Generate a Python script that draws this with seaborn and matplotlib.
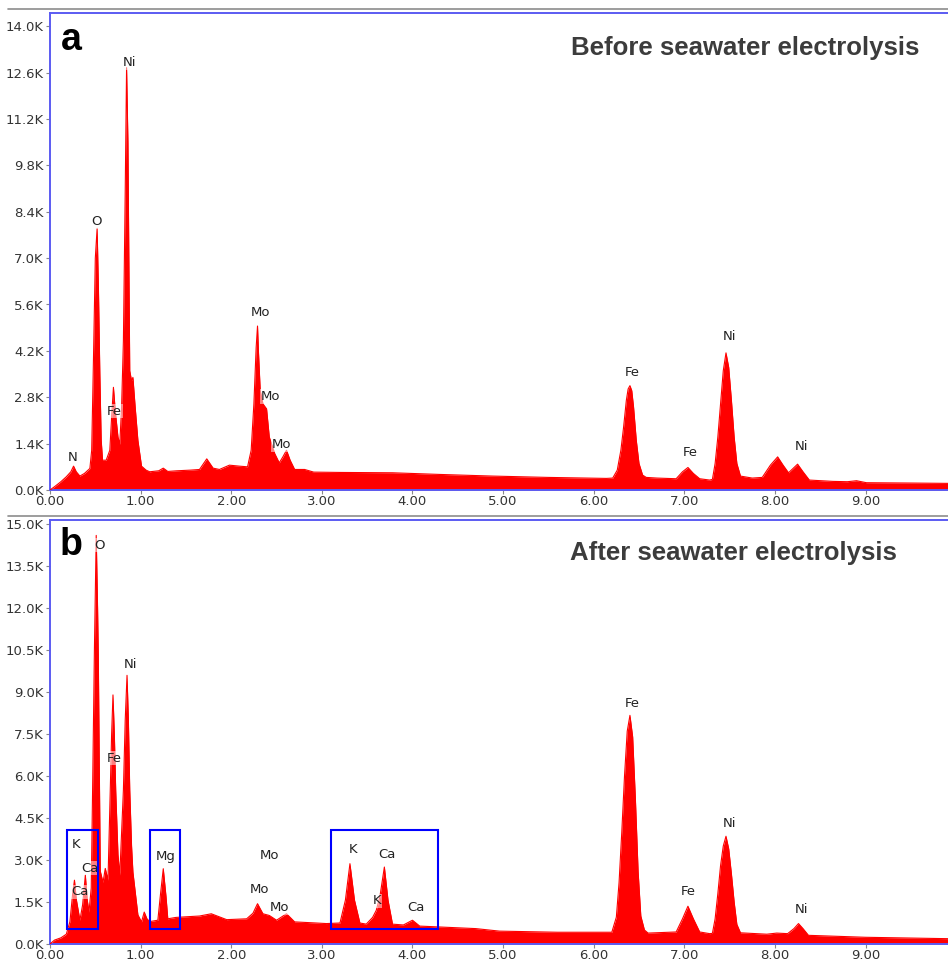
import numpy as np
import pandas as pd
import matplotlib
matplotlib.use("Agg")
import matplotlib.pyplot as plt
from matplotlib.lines import Line2D
from matplotlib.patches import Rectangle
import seaborn as sns

# ---------------- data (energy in keV, counts in thousands) ----------------
energy_a = [0.00, 0.05, 0.12, 0.18, 0.23, 0.26, 0.29, 0.33, 0.38, 0.44, 0.46, 0.48, 0.50, 0.52,
            0.535, 0.55, 0.565, 0.58, 0.62, 0.66, 0.68, 0.70, 0.72, 0.75, 0.77, 0.79, 0.81, 0.83,
            0.845, 0.86, 0.87, 0.88, 0.90, 0.915, 0.94, 0.97, 1.01, 1.06, 1.10, 1.20, 1.25, 1.30,
            1.40, 1.55, 1.65, 1.73, 1.80, 1.87, 1.98, 2.09, 2.18, 2.22, 2.25, 2.275, 2.29, 2.30,
            2.32, 2.35, 2.39, 2.42, 2.48, 2.53, 2.57, 2.61, 2.65, 2.70, 2.81, 2.91, 3.20, 3.78,
            4.30, 4.89, 5.50, 6.14, 6.21, 6.26, 6.30, 6.33, 6.36, 6.38, 6.40, 6.42, 6.44, 6.47,
            6.50, 6.54, 6.58, 6.70, 6.91, 6.98, 7.04, 7.10, 7.17, 7.28, 7.31, 7.34, 7.37, 7.40,
            7.43, 7.46, 7.49, 7.52, 7.55, 7.58, 7.62, 7.75, 7.86, 7.95, 8.03, 8.09, 8.15, 8.25,
            8.31, 8.38, 8.64, 8.80, 8.90, 9.01, 9.50, 9.91]
counts_a = [0.00, 0.10, 0.25, 0.40, 0.55, 0.72, 0.55, 0.42, 0.50, 0.65, 1.20, 4.00, 7.00, 7.90,
            6.00, 3.50, 1.50, 0.90, 0.90, 1.20, 2.20, 3.10, 2.40, 1.60, 1.38, 2.50, 4.50, 9.00,
            12.75, 10.50, 7.00, 3.60, 3.30, 3.40, 2.50, 1.50, 0.72, 0.60, 0.55, 0.58, 0.66, 0.56,
            0.58, 0.60, 0.62, 0.94, 0.66, 0.62, 0.75, 0.72, 0.70, 1.20, 2.60, 4.30, 4.95, 4.20,
            3.00, 2.60, 2.45, 1.60, 1.10, 0.82, 1.00, 1.20, 0.90, 0.62, 0.62, 0.54, 0.53, 0.52,
            0.47, 0.42, 0.38, 0.35, 0.36, 0.60, 1.20, 1.90, 2.70, 3.05, 3.15, 3.00, 2.50, 1.50,
            0.80, 0.45, 0.38, 0.36, 0.34, 0.55, 0.68, 0.50, 0.34, 0.30, 0.32, 0.80, 1.60, 2.60,
            3.60, 4.14, 3.70, 2.70, 1.60, 0.80, 0.42, 0.36, 0.38, 0.75, 1.00, 0.75, 0.52, 0.78,
            0.55, 0.30, 0.26, 0.25, 0.28, 0.22, 0.21, 0.20]

energy_b = [0.00, 0.05, 0.12, 0.18, 0.22, 0.25, 0.27, 0.29, 0.33, 0.36, 0.39, 0.41, 0.43, 0.455,
            0.47, 0.49, 0.51, 0.525, 0.533, 0.545, 0.555, 0.585, 0.61, 0.64, 0.665, 0.68, 0.695,
            0.71, 0.725, 0.75, 0.77, 0.81, 0.83, 0.85, 0.865, 0.88, 0.90, 0.915, 0.97, 1.01, 1.04,
            1.07, 1.10, 1.19, 1.22, 1.25, 1.28, 1.30, 1.39, 1.65, 1.78, 1.95, 2.17, 2.24, 2.29,
            2.35, 2.42, 2.50, 2.61, 2.70, 2.94, 3.05, 3.20, 3.26, 3.31, 3.36, 3.42, 3.49, 3.56,
            3.60, 3.64, 3.69, 3.73, 3.78, 3.90, 4.00, 4.08, 4.70, 4.96, 5.60, 6.20, 6.25, 6.28,
            6.31, 6.34, 6.37, 6.40, 6.43, 6.46, 6.49, 6.52, 6.56, 6.60, 6.91, 6.98, 7.04, 7.10,
            7.17, 7.28, 7.31, 7.34, 7.37, 7.40, 7.43, 7.46, 7.49, 7.52, 7.55, 7.58, 7.62, 7.91,
            8.02, 8.14, 8.21, 8.26, 8.31, 8.37, 9.00, 9.91]
counts_b = [0.00, 0.14, 0.22, 0.35, 0.80, 1.80, 2.28, 1.60, 0.85, 1.40, 2.46, 1.60, 1.14, 2.00,
            5.50, 10.50, 14.60, 12.00, 10.30, 6.00, 2.60, 2.20, 2.70, 2.28, 5.50, 7.50, 8.90,
            7.50, 5.50, 3.20, 2.46, 5.50, 8.00, 9.60, 8.00, 5.50, 3.50, 2.57, 1.04, 0.79, 1.14,
            0.90, 0.80, 0.85, 1.80, 2.69, 1.70, 0.90, 0.95, 1.00, 1.08, 0.87, 0.90, 1.10, 1.44,
            1.08, 1.02, 0.85, 1.08, 0.79, 0.75, 0.73, 0.75, 1.57, 2.87, 1.57, 0.75, 0.71, 0.95,
            1.20, 1.68, 2.75, 1.57, 0.71, 0.68, 0.85, 0.64, 0.55, 0.46, 0.42, 0.42, 0.96, 2.20,
            4.00, 6.00, 7.60, 8.17, 7.40, 5.20, 2.60, 1.00, 0.50, 0.39, 0.43, 0.90, 1.35, 0.90,
            0.43, 0.37, 0.38, 0.90, 1.80, 2.80, 3.50, 3.85, 3.40, 2.50, 1.50, 0.70, 0.40, 0.35,
            0.39, 0.37, 0.55, 0.73, 0.55, 0.31, 0.24, 0.19]

labels_a = ["N", "O", "Ni", "Fe", "Mo", "Mo", "Mo", "Fe", "Fe", "Ni", "Ni"]
label_x_a = [0.25, 0.515, 0.88, 0.71, 2.32, 2.43, 2.55, 6.43, 7.07, 7.50, 8.29]
label_y_a = [0.99, 8.10, 12.90, 2.38, 5.36, 2.83, 1.36, 3.55, 1.14, 4.64, 1.30]

labels_b = ["O", "Ni", "Fe", "K", "Ca", "Ca", "Mg", "Mo", "Mo", "Mo", "K", "Ca", "K", "Ca",
            "Fe", "Fe", "Ni", "Ni"]
label_x_b = [0.55, 0.89, 0.71, 0.29, 0.44, 0.33, 1.28, 2.42, 2.31, 2.53, 3.34, 3.72, 3.61, 4.04,
             6.43, 7.04, 7.50, 8.29]
label_y_b = [14.25, 10.00, 6.64, 3.54, 2.71, 1.86, 3.14, 3.18, 1.93, 1.29, 3.36, 3.21, 1.54, 1.29,
             8.60, 1.86, 4.32, 1.25]

# highlight boxes in panel b: (x0, x1) in keV, (y0, y1) in K counts
box_x0 = [0.19, 1.10, 3.10]
box_x1 = [0.53, 1.44, 4.28]
box_y0 = [0.54, 0.54, 0.54]
box_y1 = [4.07, 4.07, 4.07]

titles = ["Before seawater electrolysis", "After seawater electrolysis"]
letters = ["a", "b"]
ytick_a = [1.4 * i for i in range(11)]
ytick_b = [1.5 * i for i in range(11)]
xticks = list(range(10))

# ---------------- figure ----------------
sns.set_theme(style="white")
plt.rcParams["font.family"] = ["DejaVu Sans"]

W, H = 948, 963
fig = plt.figure(figsize=(W / 100, H / 100), dpi=100)

def axes_px(x0, y0, x1, y1):
    return fig.add_axes([x0 / W, 1 - y1 / H, (x1 - x0) / W, (y1 - y0) / H])

ax_a = axes_px(50, 13, 948, 490)
ax_b = axes_px(50, 520, 948, 944)

frame_blue = "#5b5bf2"
txt_col = "#333333"

panels = [
    (ax_a, energy_a, counts_a, 14.4, ytick_a, labels_a, label_x_a, label_y_a,
     titles[0], letters[0], 0.968, 0.927, 0.943),
    (ax_b, energy_b, counts_b, 15.15, ytick_b, labels_b, label_x_b, label_y_b,
     titles[1], letters[1], 0.943, 0.923, 0.941),
]

for (ax, ex, cy, ymax, yt, labs, lx, ly, title, letter, tx, ty, ly_letter) in panels:
    df = pd.DataFrame({"energy": ex, "counts": cy})
    ax.fill_between(df["energy"], 0, df["counts"], color="#ff0000", linewidth=0, zorder=2)
    sns.lineplot(data=df, x="energy", y="counts", ax=ax, color="#ff0000", linewidth=0.8,
                 zorder=3, sort=False)
    ax.set_xlim(0, 9.91)
    ax.set_ylim(0, ymax)
    ax.set_xlabel("")
    ax.set_ylabel("")
    ax.set_xticks(xticks)
    ax.set_xticklabels([f"{v:.2f}" for v in xticks], fontsize=9.5, color=txt_col)
    ax.set_yticks(yt)
    ax.set_yticklabels([f"{v:.1f}K" for v in yt], fontsize=9.5, color=txt_col)
    ax.tick_params(axis="both", which="major", length=3, width=0.8, color="#888888",
                   direction="out", pad=1.5, bottom=True, left=True)
    ax.tick_params(axis="x", pad=0.5)
    for side in ["left", "top", "bottom"]:
        ax.spines[side].set_color(frame_blue)
        ax.spines[side].set_linewidth(1.4)
    ax.spines["right"].set_visible(False)
    ax.set_facecolor("white")

    for s, x, y in zip(labs, lx, ly):
        ax.text(x, y, s, ha="center", va="center", fontsize=9.5, color="#222222", zorder=5,
                bbox=dict(facecolor="white", alpha=0.5, edgecolor="none", pad=0.6))

    ax.text(tx, ty, title, transform=ax.transAxes, ha="right", va="center",
            fontsize=18.5, fontweight="bold", color="#3c3c3c", family="Liberation Sans")
    ax.text(0.0234, ly_letter, letter, transform=ax.transAxes, ha="center", va="center",
            fontsize=27, fontweight="bold", color="black", family="Liberation Sans")

for x0, x1, y0, y1 in zip(box_x0, box_x1, box_y0, box_y1):
    ax_b.add_patch(Rectangle((x0, y0), x1 - x0, y1 - y0, fill=False, edgecolor="#0000ff",
                             linewidth=1.5, zorder=6))

# grey separator lines
for ypx in [9, 516]:
    fig.add_artist(Line2D([8 / W, 1.0], [1 - ypx / H, 1 - ypx / H], color="#8c8c8c",
                          linewidth=1.2, transform=fig.transFigure))

fig.savefig("out.png", dpi=100, facecolor="white")
